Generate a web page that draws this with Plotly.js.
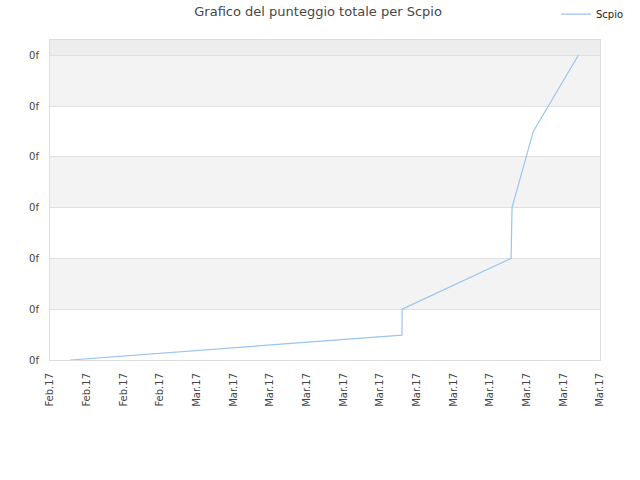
<!DOCTYPE html>
<html>
<head>
<meta charset="utf-8">
<script src="https://cdn.plot.ly/plotly-3.0.1.min.js"></script>
<style>html,body{margin:0;padding:0;background:#fff;}#chart{width:640px;height:480px;}</style>
</head>
<body>
<div id="chart"></div>
<script>
// Data
var seriesName = "Scpio";
var dates = ["2017-02-23 02:10", "2017-03-13 04:45", "2017-03-13 05:00", "2017-03-19 03:35", "2017-03-19 04:50", "2017-03-20 08:40", "2017-03-22 19:40"];
var scores = [0.0, 0.49, 1.0, 2.0, 3.0, 4.5, 6.0];

var yTickVals = [0, 1, 2, 3, 4, 5, 6];
var yTickText = ["0f", "0f", "0f", "0f", "0f", "0f", "0f"];

var xTickDates = ["2017-02-22", "2017-02-24", "2017-02-26", "2017-02-28", "2017-03-02", "2017-03-04", "2017-03-06", "2017-03-08", "2017-03-10", "2017-03-12", "2017-03-14", "2017-03-16", "2017-03-18", "2017-03-20", "2017-03-22", "2017-03-24"];
var xTickLabels = ["Feb.17", "Feb.17", "Feb.17", "Feb.17", "Mar.17", "Mar.17", "Mar.17", "Mar.17", "Mar.17", "Mar.17", "Mar.17", "Mar.17", "Mar.17", "Mar.17", "Mar.17", "Mar.17"];

var grayBands = [[1, 2], [3, 4], [5, 6]];
var yTop = 6.3;

var shapes = grayBands.map(function (b) {
  return {type: "rect", xref: "paper", yref: "y", x0: 0, x1: 1, y0: b[0], y1: b[1],
          fillcolor: "#f3f3f3", line: {width: 0}, layer: "below"};
});
shapes.push({type: "rect", xref: "paper", yref: "y", x0: 0, x1: 1, y0: 6, y1: yTop,
             fillcolor: "#ededed", line: {width: 0}, layer: "below"});

var trace = {
  x: dates, y: scores, type: "scatter", mode: "lines", name: seriesName,
  line: {color: "#99c5f0", width: 1.2}
};

var layout = {
  width: 640, height: 480,
  margin: {l: 50, r: 40, t: 40, b: 120, autoexpand: false},
  paper_bgcolor: "#ffffff", plot_bgcolor: "#ffffff",
  font: {family: "DejaVu Sans, sans-serif", size: 10, color: "#333333"},
  title: {text: "Grafico del punteggio totale per Scpio", x: 0.497, xanchor: "center", y: 0.977, yanchor: "middle",
          font: {family: "DejaVu Sans, sans-serif", size: 13, color: "#484848"}},
  showlegend: true,
  legend: {x: 0.92, xanchor: "left", y: 1.081, yanchor: "middle", bgcolor: "rgba(0,0,0,0)",
           font: {size: 10, color: "#222222"}, itemwidth: 30},
  xaxis: {
    type: "date", range: ["2017-02-22", "2017-03-24"],
    tickmode: "array", tickvals: xTickDates, ticktext: xTickLabels, tickangle: -90,
    showgrid: false, zeroline: false, showline: true, linecolor: "#dddddd", linewidth: 1, mirror: true,
    ticks: "", ticklabelstandoff: 8, automargin: false, tickfont: {size: 10, color: "#444444"}
  },
  yaxis: {
    range: [0, yTop], tickmode: "array", tickvals: yTickVals, ticktext: yTickText,
    showgrid: true, gridcolor: "#e0e0e0", gridwidth: 1, zeroline: false,
    showline: true, linecolor: "#dddddd", linewidth: 1, mirror: true,
    ticks: "", ticklen: 0, ticklabelstandoff: 8, automargin: false, tickfont: {size: 10, color: "#444444"}
  },
  shapes: shapes
};

Plotly.newPlot("chart", [trace], layout, {displayModeBar: false, staticPlot: true});
</script>
</body>
</html>
